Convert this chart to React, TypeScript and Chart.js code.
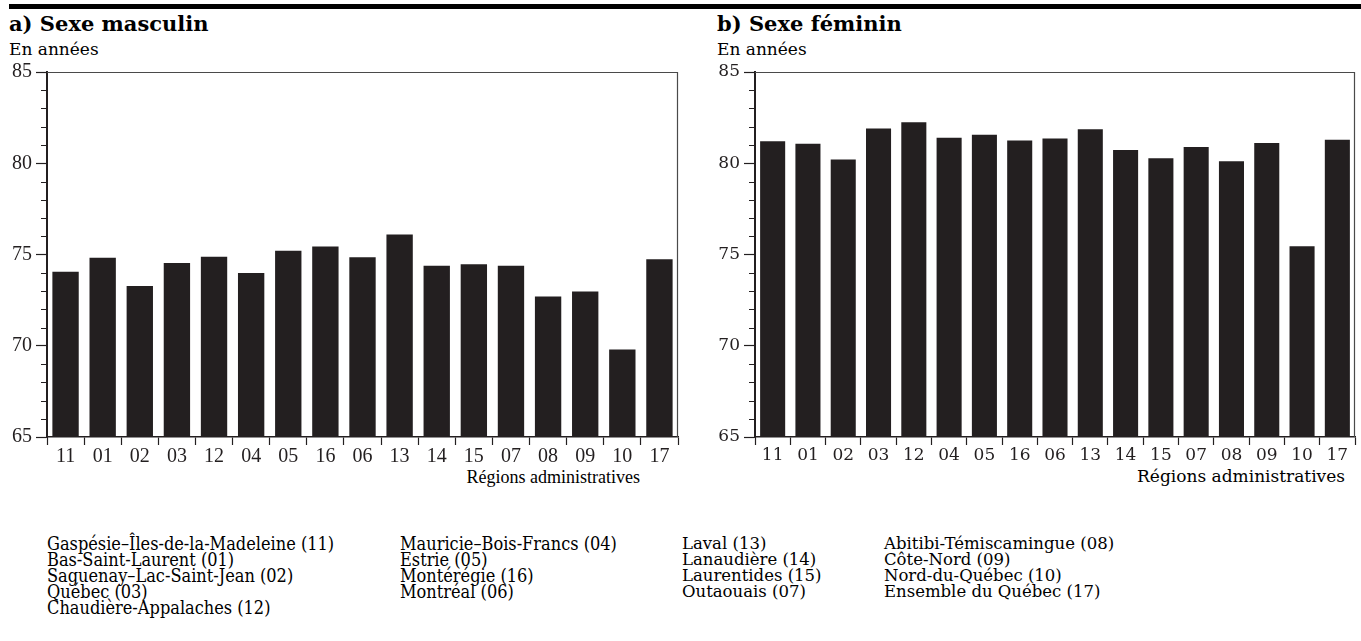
import React, { useEffect, useRef } from 'react';
import { Chart, registerables } from 'chart.js';

Chart.register(...registerables);

// ---------- data ----------
const regionCodes = ['11', '01', '02', '03', '12', '04', '05', '16', '06', '13', '14', '15', '07', '08', '09', '10', '17'];
const maleLifeExpectancy = [74.05, 74.82, 73.28, 74.53, 74.87, 73.98, 75.2, 75.44, 74.85, 76.09, 74.38, 74.47, 74.38, 72.7, 72.97, 69.8, 74.74];
const femaleLifeExpectancy = [81.2, 81.07, 80.2, 81.9, 82.25, 81.4, 81.56, 81.24, 81.35, 81.86, 80.73, 80.27, 80.89, 80.11, 81.11, 75.45, 81.29];
const yMin = 65;
const yMax = 85;
const yMajorStep = 5;
const yMinorStep = 1;

const panelTitles = ['a) Sexe masculin', 'b) Sexe féminin'];
const yAxisUnit = 'En années';
const xAxisTitle = 'Régions administratives';

const legendColumn1 = ['Gaspésie–Îles-de-la-Madeleine (11)', 'Bas-Saint-Laurent (01)', 'Saguenay–Lac-Saint-Jean (02)', 'Québec (03)', 'Chaudière-Appalaches (12)'];
const legendColumn2 = ['Mauricie–Bois-Francs (04)', 'Estrie (05)', 'Montérégie (16)', 'Montréal (06)'];
const legendColumn3 = ['Laval (13)', 'Lanaudière (14)', 'Laurentides (15)', 'Outaouais (07)'];
const legendColumn4 = ['Abitibi-Témiscamingue (08)', 'Côte-Nord (09)', 'Nord-du-Québec (10)', 'Ensemble du Québec (17)'];

// ---------- style ----------
const INK = '#231f20';
const WIDE = '"DejaVu Serif", serif';
const NARROW = '"Liberation Serif", serif';
const CONDENSED = '"DejaVu Serif Condensed", "Liberation Serif", serif';

const framePlugin = {
  id: 'frameAndMinorTicks',
  afterDraw(chart: any) {
    const { ctx, chartArea } = chart;
    const y = chart.scales.y;
    ctx.save();
    ctx.strokeStyle = '#4a4a4a';
    ctx.lineWidth = 1.2;
    ctx.beginPath();
    ctx.moveTo(chartArea.left, chartArea.top + 0.5);
    ctx.lineTo(chartArea.right, chartArea.top + 0.5);
    ctx.moveTo(chartArea.right - 0.5, chartArea.top);
    ctx.lineTo(chartArea.right - 0.5, chartArea.bottom);
    ctx.stroke();
    ctx.strokeStyle = INK;
    ctx.lineWidth = 1.1;
    ctx.beginPath();
    for (let v = yMin; v <= yMax; v += yMinorStep) {
      if (v % yMajorStep === 0) continue;
      const py = Math.round(y.getPixelForValue(v)) + 0.5;
      ctx.moveTo(chartArea.left - 6, py);
      ctx.lineTo(chartArea.left, py);
    }
    ctx.stroke();
    ctx.restore();
  },
};

function BarPanel({ values, left, width, rightPad, axisWidth, family, size }: any) {
  const ref = useRef<HTMLCanvasElement | null>(null);
  useEffect(() => {
    if (!ref.current) return;
    const font = { family, size };
    const chart = new Chart(ref.current, {
      type: 'bar',
      data: {
        labels: regionCodes,
        datasets: [
          {
            data: values,
            backgroundColor: INK,
            borderWidth: 0,
            barPercentage: 0.71,
            categoryPercentage: 1,
          },
        ],
      },
      options: {
        responsive: false,
        animation: false,
        devicePixelRatio: 1,
        layout: { padding: { top: 12, right: rightPad, left: 0, bottom: 0 } },
        plugins: { legend: { display: false }, tooltip: { enabled: false }, title: { display: false } },
        scales: {
          x: {
            grid: { display: true, drawOnChartArea: false, offset: true, tickLength: 8, tickColor: INK, tickWidth: 1.2 },
            border: { color: INK, width: 1.5 },
            ticks: { font, color: INK, padding: 0, autoSkip: false, maxRotation: 0 },
            afterFit: (s: any) => {
              s.height = 43;
              s.paddingLeft = 0;
              s.paddingRight = 0;
            },
          },
          y: {
            min: yMin,
            max: yMax,
            ticks: {
              stepSize: yMinorStep,
              autoSkip: false,
              font,
              color: INK,
              padding: 4,
              callback: (v: any) => (Number(v) % yMajorStep === 0 ? String(v) : ''),
            },
            grid: {
              drawOnChartArea: false,
              tickLength: 11,
              tickWidth: 1.2,
              tickColor: (c: any) => (c.tick && c.tick.value % yMajorStep === 0 ? INK : 'rgba(0,0,0,0)'),
            },
            border: { color: INK, width: 2 },
            afterFit: (s: any) => {
              s.width = axisWidth;
              s.paddingTop = 0;
              s.paddingBottom = 0;
            },
          },
        },
      },
      plugins: [framePlugin],
    } as any);
    return () => chart.destroy();
  }, []);
  return <canvas ref={ref} width={width} height={420} style={{ position: 'absolute', left, top: 60, width, height: 420 }} />;
}

function Text({ x, y, children, size = 17, family = WIDE, bold = false, align = 'left', w }: any) {
  return (
    <div
      style={{
        position: 'absolute',
        left: x,
        top: y,
        width: w,
        textAlign: align,
        fontFamily: family,
        fontSize: size,
        fontWeight: bold ? 'bold' : 'normal',
        lineHeight: `${size}px`,
        whiteSpace: 'nowrap',
        color: '#000',
      }}
    >
      {children}
    </div>
  );
}

function LegendColumn({ x, items, family, size }: { x: number; items: string[]; family: string; size: number }) {
  return (
    <div style={{ position: 'absolute', left: x, top: 536, fontFamily: family, fontSize: size, lineHeight: '16px', color: '#000', whiteSpace: 'nowrap' }}>
      {items.map((t) => (
        <div key={t}>{t}</div>
      ))}
    </div>
  );
}

export default function App() {
  const panelOffset = 708;
  return (
    <div style={{ position: 'absolute', left: 0, top: 0, width: 1361, height: 641, overflow: 'hidden', background: '#fff' }}>
      <div style={{ position: 'absolute', left: 9, top: 4, width: 1352, height: 5, background: '#000' }} />
      {[0, 1].map((i) => (
        <React.Fragment key={i}>
          <Text x={9 + i * panelOffset} y={13} size={21} bold>
            {panelTitles[i]}
          </Text>
          <Text x={9 + i * panelOffset} y={41}>
            {yAxisUnit}
          </Text>
        </React.Fragment>
      ))}
      <Text x={0} y={468} w={640} align="right" family={NARROW} size={18}>
        {xAxisTitle}
      </Text>
      <Text x={700} y={468} w={645} align="right">
        {xAxisTitle}
      </Text>
      <BarPanel values={maleLifeExpectancy} left={0} width={690} rightPad={12} axisWidth={47} family={NARROW} size={20} />
      <BarPanel values={femaleLifeExpectancy} left={706} width={655} rightPad={6} axisWidth={49} family={WIDE} size={17} />
      <LegendColumn x={47} items={legendColumn1} family={CONDENSED} size={18} />
      <LegendColumn x={400} items={legendColumn2} family={CONDENSED} size={18} />
      <LegendColumn x={682} items={legendColumn3} family={WIDE} size={16.5} />
      <LegendColumn x={884} items={legendColumn4} family={WIDE} size={16.5} />
    </div>
  );
}
